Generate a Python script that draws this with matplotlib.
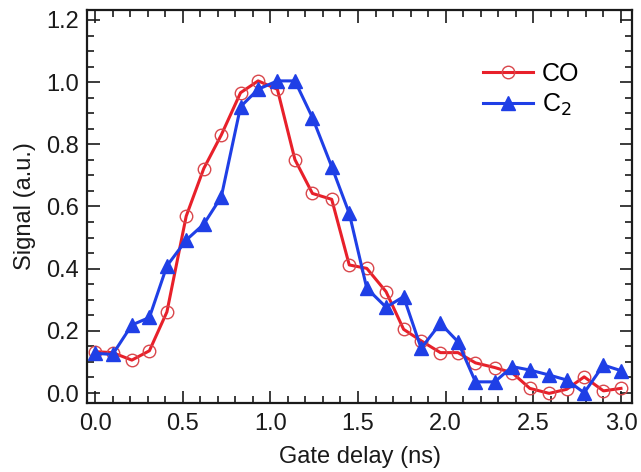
import numpy as np
import matplotlib
matplotlib.use("Agg")
import matplotlib.pyplot as plt
from matplotlib.ticker import MultipleLocator

plt.rcParams['font.family'] = ['Liberation Sans', 'DejaVu Sans']

# --- data ---
delay = [0.00, 0.10, 0.21, 0.31, 0.41, 0.52, 0.62, 0.72, 0.83, 0.93,
         1.04, 1.14, 1.24, 1.35, 1.45, 1.55, 1.66, 1.76, 1.86, 1.97,
         2.07, 2.17, 2.28, 2.38, 2.48, 2.59, 2.69, 2.79, 2.90, 3.00]
co = [0.133, 0.130, 0.106, 0.136, 0.261, 0.569, 0.722, 0.830, 0.966, 1.004,
      0.977, 0.751, 0.642, 0.623, 0.412, 0.401, 0.326, 0.205, 0.168, 0.130,
      0.130, 0.097, 0.082, 0.065, 0.015, -0.001, 0.012, 0.052, 0.007, 0.015]
c2 = [0.128, 0.124, 0.219, 0.243, 0.409, 0.492, 0.543, 0.631, 0.921, 0.977,
      1.004, 1.004, 0.886, 0.728, 0.578, 0.337, 0.276, 0.310, 0.144, 0.224,
      0.165, 0.036, 0.036, 0.085, 0.074, 0.058, 0.042, 0.001, 0.090, 0.072]

RED = '#e8202a'
BLUE = '#1f3fe6'

fig = plt.figure(figsize=(6.41, 4.72), dpi=100)
ax = fig.add_axes([0.1357, 0.1462, 0.8503, 0.8326])

ax.plot(delay, co, color=RED, lw=2.2, marker='o', ms=9, mfc='none',
        mec='#d9474c', mew=1.0, label='CO', zorder=2)
ax.plot(delay, c2, color=BLUE, lw=2.2, marker='^', ms=10, mfc=BLUE,
        mec=BLUE, label='C$_2$', zorder=3)

ax.set_xlim(-0.046, 3.063)
ax.set_ylim(-0.032, 1.232)
ax.xaxis.set_major_locator(MultipleLocator(0.5))
ax.xaxis.set_minor_locator(MultipleLocator(0.1))
ax.yaxis.set_major_locator(MultipleLocator(0.2))
ax.yaxis.set_minor_locator(MultipleLocator(0.05))
ax.xaxis.set_major_formatter(plt.FormatStrFormatter('%.1f'))
ax.yaxis.set_major_formatter(plt.FormatStrFormatter('%.1f'))

ax.tick_params(which='both', direction='in', top=True, right=True,
               width=1.2, colors='#1a1a1a', labelcolor='#1a1a1a')
ax.tick_params(which='major', length=9, labelsize=17)
ax.tick_params(which='minor', length=5)
ax.tick_params(axis='x', which='major', pad=7)
ax.tick_params(axis='y', which='major', pad=6)
for s in ax.spines.values():
    s.set_linewidth(1.6)
    s.set_color('#1a1a1a')

ax.set_xlabel('Gate delay (ns)', fontsize=17, color='#1a1a1a', labelpad=8)
ax.set_ylabel('Signal (a.u.)', fontsize=17, color='#1a1a1a', labelpad=7)

ax.legend(loc='upper left', bbox_to_anchor=(0.685, 0.925), frameon=False,
          fontsize=18, handlelength=2.0, handletextpad=0.35, labelspacing=0.25)

fig.savefig('out.png', dpi=100)
